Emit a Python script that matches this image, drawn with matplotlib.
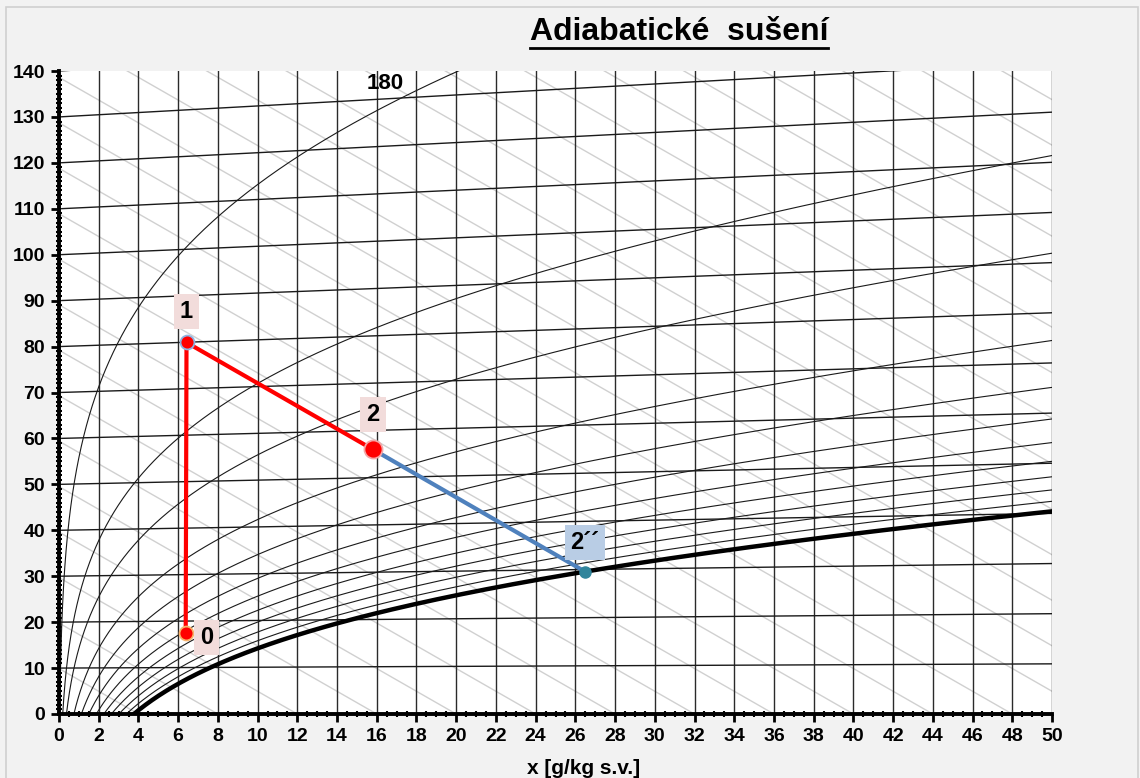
import numpy as np
import matplotlib.pyplot as plt
from matplotlib.patches import Rectangle
from matplotlib.lines import Line2D

plt.rcParams['font.family'] = ['Liberation Sans', 'DejaVu Sans']

# parametry h-x diagramu
tlak = 101.325  # kPa
teploty = [10, 20, 30, 40, 50, 60, 70, 80, 90, 100, 110, 120, 130, 140]
vlhkosti = [0.01, 0.05, 0.1, 0.2, 0.3, 0.4, 0.5, 0.6, 0.7, 0.8, 0.9]
entalpie = list(range(10, 290, 10))

# body procesu (x v g/kg s.v., y podle osy diagramu)
body_x = [6.38, 6.42, 15.81, 26.49]
body_y = [17.6, 80.9, 57.6, 31.0]
popisky = ['0', '1', '2', '2´´']


def tlak_nasycene_pary(t):
    return np.exp(23.5771 - 4042.9 / (t + 273.15 - 37.58)) / 1000.0


def osa_y(t, x):
    return t + 0.00184 * t * x


fig = plt.figure(figsize=(11.4, 7.78), dpi=100, facecolor='#f2f2f2')
fig.patches.append(Rectangle((6 / 1140, -0.01), 1132 / 1140, 1.01 - 7 / 778,
                             transform=fig.transFigure, fill=False,
                             edgecolor='#d0d0d0', linewidth=1.2))
ax = fig.add_axes([59 / 1140, 1 - 714 / 778, 993 / 1140, 643 / 778])

xs = np.linspace(0, 50, 400)

# entalpie (sede sikme cary)
for h in entalpie:
    t = (h - 2.5 * xs) / (1.01 + 0.00184 * xs)
    ax.plot(xs, osa_y(t, xs), color='#d0d0d0', lw=1.0, zorder=1)

# svisle cary mrizky
for xv in range(0, 51, 2):
    ax.axvline(xv, color='#2a2a2a', lw=1.0, zorder=2)

# izotermy
for t in teploty:
    ax.plot(xs, osa_y(t, xs), color='#1a1a1a', lw=1.0, zorder=2)

# krivky relativni vlhkosti
ts = np.linspace(0, 150, 1500)
for phi in vlhkosti + [1.0]:
    pv = phi * tlak_nasycene_pary(ts)
    ok = pv < tlak * 0.95
    x = 622 * pv[ok] / (tlak - pv[ok])
    if phi == 1.0:
        ax.plot(x, osa_y(ts[ok], x), color='black', lw=3.2, zorder=3)
    else:
        ax.plot(x, osa_y(ts[ok], x), color='#1a1a1a', lw=0.8, zorder=2)

# proces adiabatickeho suseni
ax.plot(body_x[:3], body_y[:3], color='#ff0000', lw=3, zorder=5)
ax.plot(body_x[2:], body_y[2:], color='#4f81bd', lw=3, zorder=5)

ax.plot(body_x[0], body_y[0], 'o', ms=10, color='#ff0000', mec='#f8b26a', mew=1.3, zorder=6)
ax.plot(body_x[1], body_y[1], 'o', ms=10, color='#ff0000', mec='#8db3e2', mew=1.3, zorder=6)
ax.plot(body_x[2], body_y[2], 'o', ms=13, color='#ff0000', mec='#f4a6a6', mew=1.3, zorder=6)
ax.plot(body_x[3], body_y[3], 'o', ms=8, color='#31859c', mec='#31859c', zorder=6)

posuny = [(15, -3), (0, 22), (0, 25), (0, 21)]
barvy = ['#f2dcdb', '#f2dcdb', '#f2dcdb', '#b9cde5']
for x, y, txt, off, c in zip(body_x, body_y, popisky, posuny, barvy):
    ax.annotate(txt, (x, y), xytext=off, textcoords='offset points',
                ha='center', va='center', fontsize=17, fontweight='bold',
                bbox=dict(boxstyle='square,pad=0.25', fc=c, ec='none'), zorder=7)

ax.text(16.4, 137.2, '180', ha='center', va='center', fontsize=16, fontweight='bold', zorder=7)

ax.set_xlim(0, 50)
ax.set_ylim(0, 140)
ax.set_xticks(range(0, 51, 2))
ax.set_xticks(np.arange(0, 50.01, 0.5), minor=True)
ax.set_yticks(range(0, 141, 10))
ax.set_yticks(range(0, 141, 1), minor=True)
ax.tick_params(which='major', length=6, width=2, labelsize=14, direction='out', pad=4)
ax.tick_params(which='minor', length=4, width=1.5, direction='inout')
for lbl in ax.get_xticklabels() + ax.get_yticklabels():
    lbl.set_fontweight('bold')
ax.spines['top'].set_visible(False)
ax.spines['right'].set_visible(False)
ax.spines['left'].set_linewidth(2.8)
ax.spines['bottom'].set_linewidth(2.8)

fig.text(679 / 1140, 1 - 32 / 778, 'Adiabatické  sušení', ha='center', va='center',
         fontsize=23, fontweight='bold')
fig.add_artist(Line2D([530 / 1140, 828 / 1140], [1 - 48 / 778, 1 - 48 / 778],
                      transform=fig.transFigure, color='black', lw=2))
fig.text(584 / 1140, 1 - 759 / 778, 'x [g/kg s.v.]', ha='center', va='top',
         fontsize=15, fontweight='bold')

fig.savefig('out.png', dpi=100, facecolor=fig.get_facecolor())
